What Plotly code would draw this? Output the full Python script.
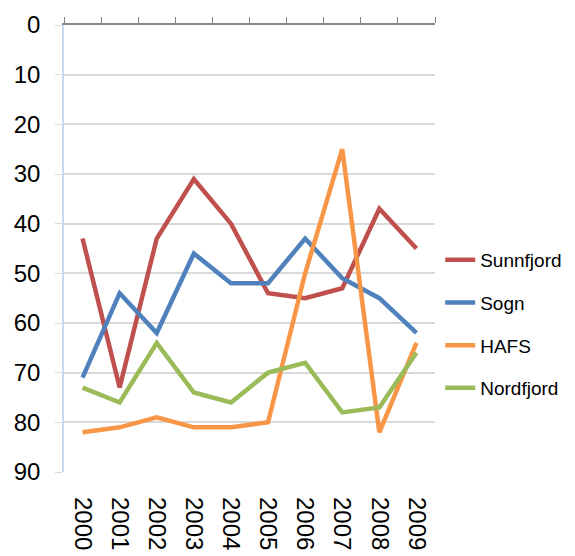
import plotly.graph_objects as go

years = [2000, 2001, 2002, 2003, 2004, 2005, 2006, 2007, 2008, 2009]
year_labels = [str(y) for y in years]

sunnfjord = [43, 73, 43, 31, 40, 54, 55, 53, 37, 45]
sogn = [71, 54, 62, 46, 52, 52, 43, 51, 55, 62]
hafs = [82, 81, 79, 81, 81, 80, 50, 25, 82, 64]
nordfjord = [73, 76, 64, 74, 76, 70, 68, 78, 77, 66]

series = [
    ("Sunnfjord", sunnfjord, "#C0504D"),
    ("Sogn", sogn, "#4F81BD"),
    ("HAFS", hafs, "#F79646"),
    ("Nordfjord", nordfjord, "#9BBB59"),
]

fig = go.Figure()
for name, vals, color in series:
    fig.add_trace(go.Scatter(x=years, y=vals, name=name, mode="lines",
                             legendgroup=name,
                             line=dict(color=color, width=4.5)))

# invisible copy so the top axis (ticks between the years) gets drawn
fig.add_trace(go.Scatter(x=years, y=sunnfjord, xaxis="x2", mode="lines",
                         line=dict(width=0), opacity=0, showlegend=False,
                         hoverinfo="skip"))

font = "Arial, Liberation Sans, sans-serif"
boundaries = [y - 0.5 for y in years] + [years[-1] + 0.5]

fig.update_layout(
    width=567, height=548,
    margin=dict(l=56, r=140, t=17, b=84, autoexpand=False),
    plot_bgcolor="white", paper_bgcolor="white",
    font=dict(family=font, size=24, color="black"),
    showlegend=True,
    legend=dict(x=1.014, y=0.517, xanchor="left", yanchor="top",
                font=dict(size=19), tracegroupgap=15,
                bgcolor="rgba(0,0,0,0)"),
    xaxis=dict(range=[1999.5, 2009.5], side="bottom", tickvals=years,
               ticktext=year_labels, tickangle=90, showline=False,
               showgrid=False, zeroline=False, ticks="", automargin=False,
               ticklabelstandoff=24, tickfont=dict(size=24)),
    xaxis2=dict(range=[1999.5, 2009.5], overlaying="x", side="top",
                anchor="y", showline=True, linecolor="#868686",
                linewidth=1.5, ticks="outside", tickcolor="#868686",
                ticklen=6, tickvals=boundaries, showticklabels=False,
                showgrid=False, zeroline=False, automargin=False),
    yaxis=dict(range=[90, 0], dtick=10, showgrid=True, gridcolor="#D9D9D9",
               gridwidth=1.5, showline=True, linecolor="#C6D9F1",
               linewidth=1.5, ticks="outside", tickcolor="#D9D9D9",
               ticklen=7, zeroline=False, automargin=False,
               ticklabelstandoff=10, tickfont=dict(size=24)),
)

fig.write_html("out.html")
